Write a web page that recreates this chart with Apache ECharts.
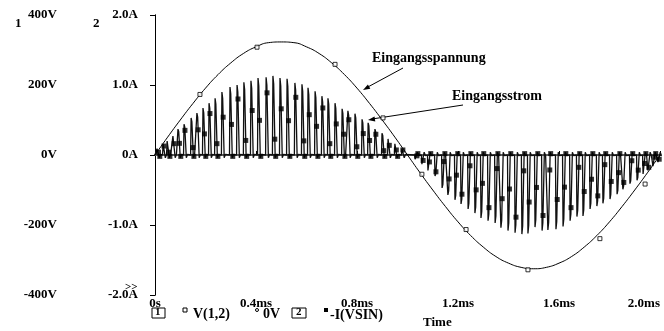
<!DOCTYPE html>
<html>
<head>
<meta charset="utf-8">
<script src="https://cdn.jsdelivr.net/npm/echarts@6/dist/echarts.min.js"></script>
<style>
html, body { margin: 0; padding: 0; background: #fff; }
#chart { width: 664px; height: 331px; }
</style>
</head>
<body>
<div id="chart"></div>
<script>
// Zeit in ms
var timeTicks = ['0s', '0.4ms', '0.8ms', '1.2ms', '1.6ms', '2.0ms'];
var voltTicks = ['-400V', '-200V', '0V', '200V', '400V'];
var ampTicks = ['-2.0A', '-1.0A', '0A', '1.0A', '2.0A'];

// Eingangsspannung V(1,2)
var vTime = [0, 0.05, 0.1, 0.15, 0.2, 0.25, 0.3, 0.35, 0.4, 0.45, 0.5, 0.55, 0.6, 0.65, 0.7, 0.75, 0.8, 0.85, 0.9, 0.95,
  1.0, 1.05, 1.1, 1.15, 1.2, 1.25, 1.3, 1.35, 1.4, 1.45, 1.5, 1.55, 1.6, 1.65, 1.7, 1.75, 1.8, 1.85, 1.9, 1.95, 2.0];
var vValues = [0, 51, 100, 147, 191, 230, 263, 290, 309, 321, 323, 321, 309, 290, 263, 230, 191, 147, 100, 51,
  0, -51, -100, -147, -191, -230, -263, -290, -309, -321, -325, -321, -309, -290, -263, -230, -191, -147, -100, -51, 0];
// Symbolpunkte auf V(1,2)
var vMarkTime = [0.178, 0.404, 0.713, 0.903, 1.057, 1.232, 1.477, 1.762, 1.941];
var vMarkValues = [173, 308, 259, 106, -55, -213, -328, -239, -83];

// Eingangsstrom -I(VSIN): Spitzen je Schaltperiode
var posTime = [0.008, 0.032, 0.048, 0.071, 0.091, 0.115, 0.143, 0.166, 0.19, 0.214, 0.238, 0.265, 0.297, 0.325, 0.352,
  0.38, 0.408, 0.44, 0.467, 0.495, 0.523, 0.554, 0.582, 0.606, 0.634, 0.661, 0.685, 0.713, 0.741, 0.764, 0.792,
  0.82, 0.844, 0.871, 0.899, 0.923, 0.95, 0.978];
var posPeak = [0.09, 0.16, 0.2, 0.27, 0.37, 0.44, 0.53, 0.6, 0.67, 0.74, 0.81, 0.9, 0.97, 1.0, 1.04, 1.06, 1.1, 1.11,
  1.13, 1.1, 1.09, 1.03, 1.01, 0.96, 0.91, 0.84, 0.81, 0.74, 0.66, 0.63, 0.59, 0.51, 0.46, 0.37, 0.31, 0.23, 0.16, 0.09];
var negTime = [1.03, 1.057, 1.081, 1.109, 1.137, 1.16, 1.188, 1.212, 1.24, 1.267, 1.291, 1.319, 1.347, 1.37, 1.398,
  1.426, 1.453, 1.477, 1.505, 1.533, 1.556, 1.588, 1.616, 1.644, 1.671, 1.695, 1.723, 1.75, 1.774, 1.802, 1.83,
  1.853, 1.881, 1.909, 1.933, 1.952, 1.972, 1.992];
var negPeak = [-0.06, -0.13, -0.22, -0.3, -0.47, -0.57, -0.64, -0.7, -0.77, -0.83, -0.9, -0.94, -0.97, -1.04, -1.08,
  -1.11, -1.13, -1.12, -1.03, -1.08, -1.07, -1.06, -1.02, -0.94, -0.88, -0.87, -0.77, -0.73, -0.69, -0.63, -0.56,
  -0.49, -0.41, -0.36, -0.27, -0.22, -0.16, -0.1];

// 0V Linie
var zeroTime = [0, 2.0];
var zeroValues = [0, 0];

var FONT = 'Liberation Serif';

// Datenpunkte bauen
var vData = vTime.map(function (t, i) { return [t, vValues[i]]; });
var vMarks = vMarkTime.map(function (t, i) { return [t, vMarkValues[i]]; });
var zeroData = zeroTime.map(function (t, i) { return [t, zeroValues[i]]; });

var spikeTime = posTime.concat(negTime);
var spikePeak = posPeak.concat(negPeak);
var iData = [[0, 0]];
var iMarks = [];
spikeTime.forEach(function (t, i) {
  var p = spikePeak[i];
  var s = p > 0 ? 1 : -1;
  var frac = [0.45, 0.8, 0.2, 0.6][i % 4];
  iData.push([t - 0.002, 0]);
  iData.push([t, p]);
  iData.push([t + 0.003, p * 0.9]);
  iData.push([t + 0.009, -0.04 * s]);
  iData.push([t + 0.014, 0.01 * s]);
  iData.push([t + 0.018, 0]);
  iMarks.push([t + 0.003 + 0.006 * (0.9 - frac) / 0.95, p * frac]);
  if (i % 2 === 0) iMarks.push([t + 0.011, -0.02 * s]);
});
iData.push([2.0, 0]);

function arrowHead(x1, y1, x2, y2) {
  var dx = x2 - x1, dy = y2 - y1;
  var len = Math.sqrt(dx * dx + dy * dy);
  var ux = dx / len, uy = dy / len;
  var bx = x2 - ux * 7, by = y2 - uy * 7;
  return [[x2, y2], [bx - uy * 2.5, by + ux * 2.5], [bx + uy * 2.5, by - ux * 2.5]];
}

function txt(x, y, s, size) {
  return { type: 'text', left: x, top: y, style: { text: s, font: 'bold ' + (size || 13) + 'px ' + FONT, fill: '#000' } };
}

var chart = echarts.init(document.getElementById('chart'));
var option = {
  backgroundColor: '#fff',
  animation: false,
  grid: { left: 155, right: 4, top: 15, bottom: 36 },
  xAxis: {
    type: 'value', min: 0, max: 2.0, interval: 0.4,
    axisLine: { lineStyle: { color: '#444', width: 2 } },
    axisTick: { inside: true, length: 4, lineStyle: { color: '#000' } },
    splitLine: { show: false },
    axisLabel: {
      margin: 2, color: '#000', fontFamily: FONT, fontWeight: 'bold', fontSize: 13,
      alignMaxLabel: 'right',
      formatter: function (v) { return timeTicks[Math.round(v / 0.4)]; }
    }
  },
  yAxis: [
    {
      type: 'value', min: -400, max: 400, interval: 200, position: 'left', offset: 78,
      axisLine: { show: true, lineStyle: { color: '#000', width: 1 } },
      axisTick: { show: true, length: 5, lineStyle: { color: '#000' } },
      splitLine: { show: false },
      axisLabel: {
        margin: 20, color: '#000', fontFamily: FONT, fontWeight: 'bold', fontSize: 13,
        formatter: function (v) { return voltTicks[Math.round(v / 200) + 2]; }
      }
    },
    {
      type: 'value', min: -2, max: 2, interval: 1, position: 'left',
      axisLine: { show: true, lineStyle: { color: '#000', width: 1 } },
      axisTick: { show: true, length: 4, lineStyle: { color: '#000' } },
      splitLine: { show: false },
      axisLabel: {
        margin: 17, color: '#000', fontFamily: FONT, fontWeight: 'bold', fontSize: 13,
        formatter: function (v) { return ampTicks[Math.round(v) + 2]; }
      }
    }
  ],
  series: [
    {
      name: '0V', type: 'line', yAxisIndex: 0, data: zeroData, symbol: 'none',
      lineStyle: { color: '#666', width: 1.5 }, z: 1
    },
    {
      name: '-I(VSIN)', type: 'line', yAxisIndex: 1, data: iData, symbol: 'none',
      lineStyle: { color: '#111', width: 1.3 }, z: 2
    },
    {
      name: 'iMarks', type: 'scatter', yAxisIndex: 1, data: iMarks, symbol: 'rect', symbolSize: 5,
      itemStyle: { color: '#000' }, z: 3
    },
    {
      name: 'V(1,2)', type: 'line', yAxisIndex: 0, data: vData, symbol: 'none', smooth: true,
      lineStyle: { color: '#000', width: 1 }, z: 4
    },
    {
      name: 'vMarks', type: 'scatter', yAxisIndex: 0, data: vMarks, symbol: 'rect', symbolSize: 4,
      itemStyle: { color: '#fff', borderColor: '#000', borderWidth: 1 }, z: 5
    }
  ],
  graphic: [
    txt(15, 17, '1', 13),
    txt(93, 17, '2', 13),
    txt(125, 282, '>>', 11),
    // Beschriftungen
    txt(372, 51, 'Eingangsspannung', 14),
    txt(452, 89, 'Eingangsstrom', 14),
    { type: 'line', shape: { x1: 403, y1: 68, x2: 366, y2: 88 }, style: { stroke: '#000', lineWidth: 1 } },
    { type: 'polygon', shape: { points: arrowHead(403, 68, 363, 90) }, style: { fill: '#000' } },
    { type: 'line', shape: { x1: 463, y1: 105, x2: 372, y2: 119 }, style: { stroke: '#000', lineWidth: 1 } },
    { type: 'polygon', shape: { points: arrowHead(463, 105, 368, 120) }, style: { fill: '#000' } },
    // Legende
    { type: 'rect', shape: { x: 152, y: 308, width: 13, height: 10 }, style: { fill: '#fff', stroke: '#000', lineWidth: 1 } },
    txt(155, 307, '1', 11),
    { type: 'rect', shape: { x: 183, y: 308, width: 4, height: 4 }, style: { fill: '#fff', stroke: '#000', lineWidth: 1 } },
    txt(193, 307, 'V(1,2)', 14),
    { type: 'circle', shape: { cx: 257, cy: 310, r: 1.5 }, style: { fill: '#fff', stroke: '#000', lineWidth: 1 } },
    txt(263, 307, '0V', 14),
    { type: 'rect', shape: { x: 292, y: 308, width: 14, height: 10 }, style: { fill: '#fff', stroke: '#000', lineWidth: 1 } },
    txt(296, 307, '2', 11),
    { type: 'rect', shape: { x: 324, y: 308, width: 4, height: 4 }, style: { fill: '#000' } },
    txt(330, 308, '-I(VSIN)', 14),
    txt(423, 316, 'Time', 13)
  ]
};
chart.setOption(option);
</script>
</body>
</html>
